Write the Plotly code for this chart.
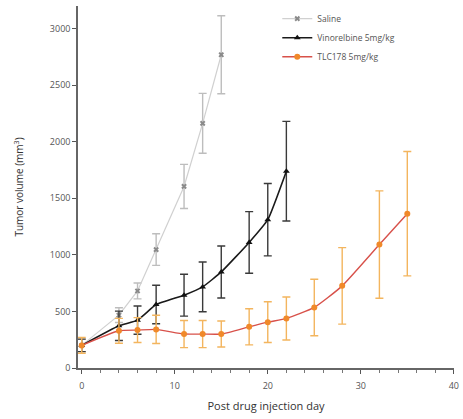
import plotly.graph_objects as go

# Tumour growth after drug injection (mean ± SD)
saline_days = [0, 4, 6, 8, 11, 13, 15]
saline_vol = [200, 467, 681, 1047, 1605, 2163, 2769]
saline_err = [55, 65, 70, 140, 195, 265, 345]

vino_days = [0, 4, 6, 8, 11, 13, 15, 18, 20, 22]
vino_vol = [200, 373, 423, 561, 644, 717, 849, 1110, 1311, 1740]
vino_err = [55, 130, 125, 170, 185, 220, 230, 272, 320, 440]

tlc_days = [0, 4, 6, 8, 11, 13, 15, 18, 20, 22, 25, 28, 32, 35]
tlc_vol = [200, 329, 335, 341, 300, 300, 300, 364, 405, 438, 535, 726, 1091, 1364]
tlc_err = [70, 110, 110, 125, 120, 120, 115, 160, 180, 190, 250, 338, 475, 550]

x_ticks = [0, 10, 20, 30, 40]
y_ticks = [0, 500, 1000, 1500, 2000, 2500, 3000]

FONT = "Open Sans"

fig = go.Figure()

fig.add_trace(go.Scatter(
    x=saline_days, y=saline_vol, name="Saline", mode="lines+markers",
    line=dict(color="#d0d0d0", width=1.2),
    marker=dict(symbol="x", size=5, color="#8a8a8a"),
    error_y=dict(type="data", array=saline_err, color="#bdbdbd", thickness=1.4, width=4),
))
fig.add_trace(go.Scatter(
    x=vino_days, y=vino_vol, name="Vinorelbine 5mg/kg", mode="lines+markers",
    line=dict(color="#1a1a1a", width=1.6, shape="spline", smoothing=0.4),
    marker=dict(symbol="triangle-up", size=6, color="#111111"),
    error_y=dict(type="data", array=vino_err, color="#3a3a3a", thickness=1.4, width=4),
))
fig.add_trace(go.Scatter(
    x=tlc_days, y=tlc_vol, name="TLC178 5mg/kg", mode="lines+markers",
    line=dict(color="#d8514a", width=1.4, shape="spline", smoothing=0.5),
    marker=dict(symbol="circle", size=6, color="#f0892a"),
    error_y=dict(type="data", array=tlc_err, color="#f3b55e", thickness=1.4, width=4),
))

fig.update_layout(
    width=463, height=419,
    margin=dict(l=78, r=4, t=5, b=51),
    paper_bgcolor="white", plot_bgcolor="white",
    font=dict(family=FONT, size=9, color="#555555"),
    showlegend=True,
    legend=dict(
        x=0.53, y=1.005, xanchor="left", yanchor="top",
        bgcolor="rgba(0,0,0,0)", font=dict(size=8.5, color="#555555"),
        tracegroupgap=0, itemwidth=30,
    ),
    xaxis=dict(
        range=[-0.4, 40.02], tickvals=x_ticks, ticks="outside", ticklen=4,
        tickcolor="#555555", showline=True, linecolor="#666666", linewidth=1.5,
        showgrid=False, zeroline=False, ticklabeloverflow="allow",
        ticklabelstandoff=4,
        minor=dict(dtick=2, ticks="outside", ticklen=3, tickcolor="#777777"),
        title=dict(text="Post drug injection day", font=dict(size=11, color="#333333"), standoff=12),
    ),
    yaxis=dict(
        range=[0, 3200], tickvals=y_ticks, ticks="outside", ticklen=4,
        tickcolor="#555555", showline=True, linecolor="#666666", linewidth=1.5,
        showgrid=False, zeroline=False,
        title=dict(text="Tumor volume (mm<sup>3</sup>)", font=dict(size=10, color="#333333"), standoff=24),
    ),
)

fig.write_html("out.html")
